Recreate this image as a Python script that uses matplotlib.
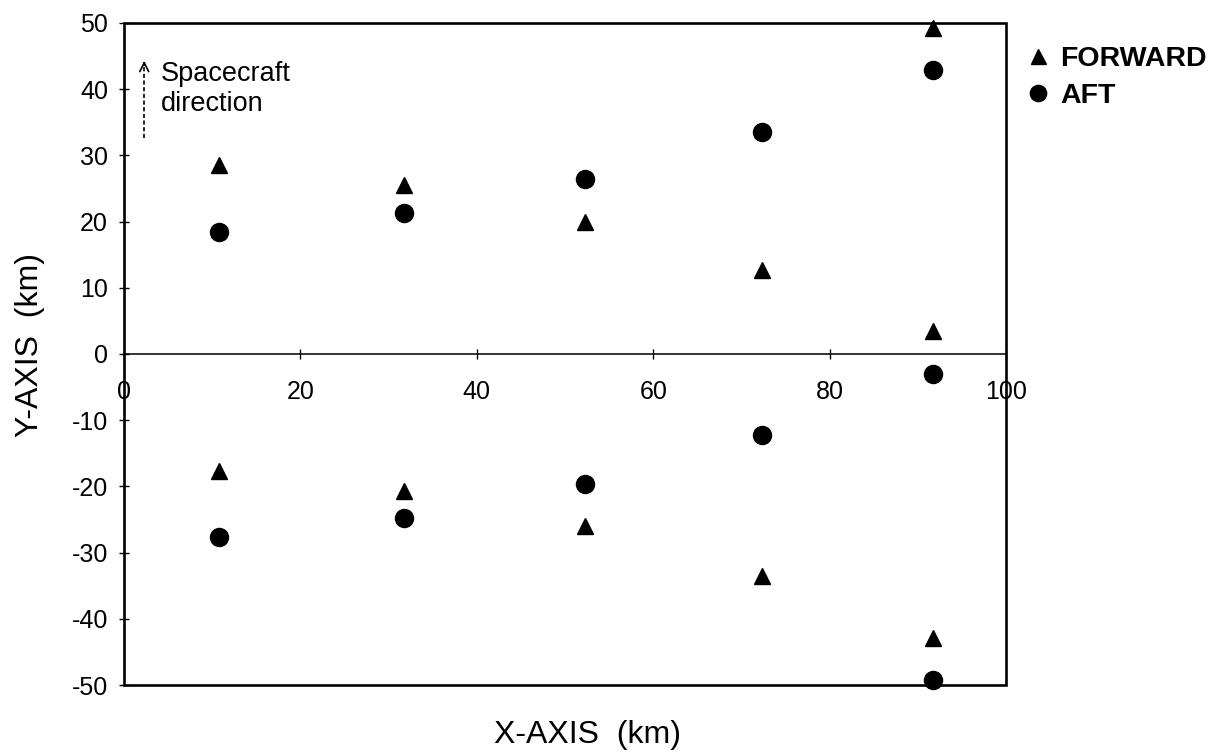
import numpy as np
import matplotlib
matplotlib.use("Agg")
import matplotlib.pyplot as plt
from matplotlib.patches import Rectangle

plt.rcParams['font.family'] = ['Liberation Sans', 'DejaVu Sans']
plt.rcParams['axes.unicode_minus'] = False

# data (km)
fwd_x = [10.8, 31.7, 52.3, 72.3, 91.7, 91.7, 10.8, 31.7, 52.3, 72.3, 91.7]
fwd_y = [28.5, 25.5, 20.0, 12.7, 3.5, 49.3, -17.7, -20.7, -26.0, -33.5, -42.9]
aft_x = [10.8, 31.7, 52.3, 72.3, 91.7, 91.7, 10.8, 31.7, 52.3, 72.3, 91.7]
aft_y = [18.4, 21.3, 26.4, 33.5, 42.9, -3.0, -27.6, -24.8, -19.6, -12.3, -49.2]

x_ticks = [0, 20, 40, 60, 80, 100]
y_ticks = [-50, -40, -30, -20, -10, 0, 10, 20, 30, 40, 50]

# spacecraft direction arrow (x, y bottom, y top)
arrow_x, arrow_y0, arrow_y1 = 2.3, 32.6, 44.7

fig = plt.figure(figsize=(12.2, 7.53), dpi=100)
ax = fig.add_axes([0.1016, 0.0903, 0.723, 0.8792])

ax.plot(fwd_x, fwd_y, '^', color='black', ms=12, label='FORWARD', clip_on=False, zorder=5)
ax.plot(aft_x, aft_y, 'o', color='black', ms=13, label='AFT', clip_on=False, zorder=5)

ax.set_xlim(0, 100)
ax.set_ylim(-50, 50)
ax.set_xticks(x_ticks)
ax.set_yticks(y_ticks)

# x axis goes through y=0, box frame drawn separately
ax.spines['bottom'].set_position(('data', 0))
ax.spines['bottom'].set_linewidth(1.1)
ax.spines['top'].set_visible(False)
ax.spines['right'].set_visible(False)
ax.spines['left'].set_visible(False)
ax.add_patch(Rectangle((0, 0), 1, 1, transform=ax.transAxes, fill=False,
                       lw=1.9, ec='black', clip_on=False, zorder=4))

ax.tick_params(axis='x', direction='inout', length=7, width=1, pad=15, labelsize=18)
ax.tick_params(axis='y', direction='inout', length=7, width=1, pad=8, labelsize=18)

# spacecraft direction note
ax.plot([arrow_x, arrow_x], [arrow_y0, arrow_y1 - 0.6], color='black', lw=1.2,
        ls=(0, (2.5, 1.5)))
ax.annotate('', xy=(arrow_x, arrow_y1), xytext=(arrow_x, arrow_y1 - 1.5),
            arrowprops=dict(arrowstyle='->', lw=1.2, color='black', mutation_scale=16))
ax.text(4.2, 40.0, 'Spacecraft\ndirection', fontsize=19.5, va='center', ha='left',
        linespacing=1.2)

fig.text(587 / 1220, 1 - 735 / 753, 'X-AXIS  (km)', fontsize=23, ha='center', va='center')
fig.text(30 / 1220, 1 - 345 / 753, 'Y-AXIS  (km)', fontsize=23, ha='center', va='center',
         rotation=90)

fig.legend(loc='center left', bbox_to_anchor=(0.842, 0.897), frameon=False,
           prop={'size': 20.5, 'weight': 'bold'}, handlelength=0.75, handletextpad=0.4,
           borderpad=0, borderaxespad=0, labelspacing=0.4, markerscale=0.9,
           numpoints=1)

plt.savefig('out.png', dpi=100)
